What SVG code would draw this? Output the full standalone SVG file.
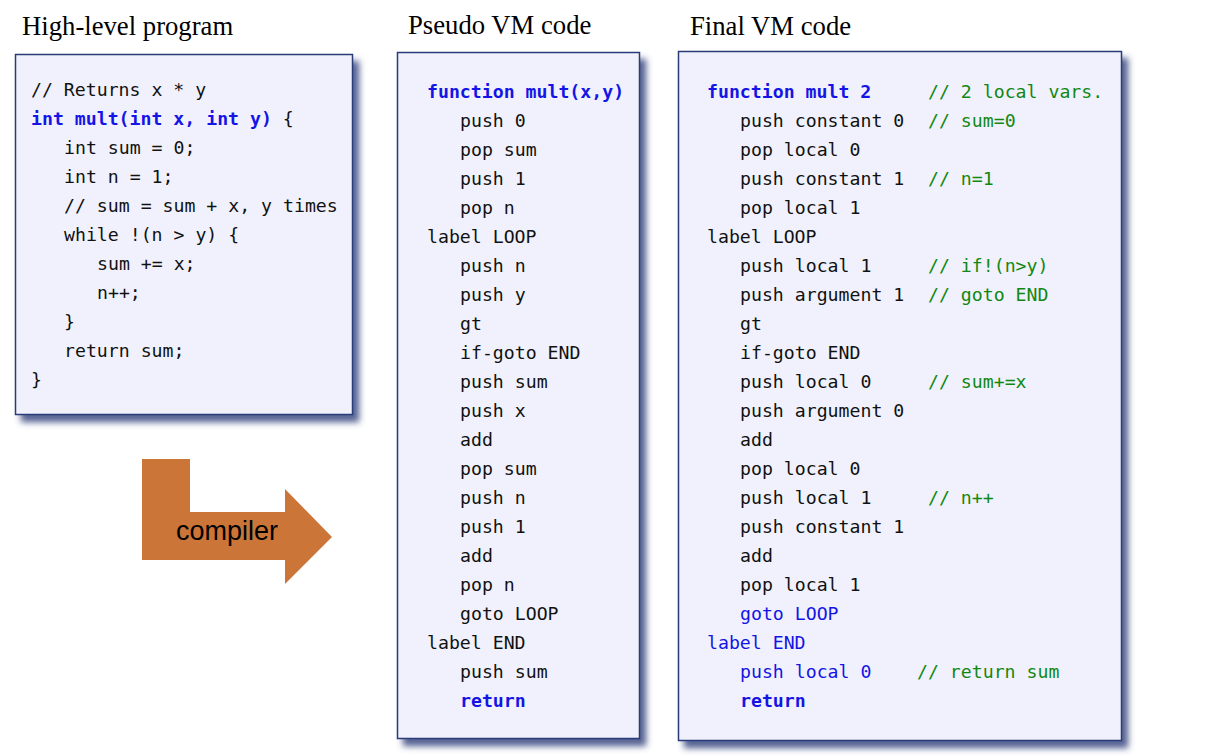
<svg xmlns="http://www.w3.org/2000/svg" width="1215" height="756" viewBox="0 0 1215 756">
<style>
.title{font-family:"Liberation Serif","Times New Roman",serif;font-size:26.7px;fill:#000}
.box{fill:#F0F1FC;stroke:#2B3A7A;stroke-width:1.5}
.code{font-family:"DejaVu Sans Mono","Liberation Mono",monospace;font-size:18.2px;fill:#111}
.kw{fill:#1414E6;font-weight:bold}
.bl{fill:#1414E6}
.cm{fill:#118811}
.lbl{font-family:"Liberation Sans",Arial,sans-serif;font-size:27px;fill:#000}
</style>
<defs>
<filter id="sh" x="-10%" y="-10%" width="130%" height="130%">
<feDropShadow dx="6" dy="7" stdDeviation="3" flood-color="#3A4A80" flood-opacity="0.85"/>
</filter>
</defs>
<rect width="1215" height="756" fill="#fff"/>
<text class="title" x="22" y="35">High-level program</text>
<text class="title" x="408" y="34">Pseudo VM code</text>
<text class="title" x="690" y="35">Final VM code</text>

<g id="high-level">
<rect class="box" x="15.5" y="54.5" width="337" height="360" filter="url(#sh)"/>
<g class="code">
<text x="31" y="96">// Returns x * y</text>
<text x="31" y="125"><tspan class="kw">int mult(int x, int y)</tspan> {</text>
<text x="64" y="154">int sum = 0;</text>
<text x="64" y="183">int n = 1;</text>
<text x="64" y="212">// sum = sum + x, y times</text>
<text x="64" y="241">while !(n &gt; y) {</text>
<text x="97" y="270">sum += x;</text>
<text x="97" y="299">n++;</text>
<text x="64" y="328">}</text>
<text x="64" y="357">return sum;</text>
<text x="31" y="386">}</text>
</g>
</g>

<g id="pseudo-vm">
<rect class="box" x="397.5" y="52.5" width="242" height="686" filter="url(#sh)"/>
<g class="code">
<text x="427" y="98" class="kw">function mult(x,y)</text>
<text x="460" y="127">push 0</text>
<text x="460" y="156">pop sum</text>
<text x="460" y="185">push 1</text>
<text x="460" y="214">pop n</text>
<text x="427" y="243">label LOOP</text>
<text x="460" y="272">push n</text>
<text x="460" y="301">push y</text>
<text x="460" y="330">gt</text>
<text x="460" y="359">if-goto END</text>
<text x="460" y="388">push sum</text>
<text x="460" y="417">push x</text>
<text x="460" y="446">add</text>
<text x="460" y="475">pop sum</text>
<text x="460" y="504">push n</text>
<text x="460" y="533">push 1</text>
<text x="460" y="562">add</text>
<text x="460" y="591">pop n</text>
<text x="460" y="620">goto LOOP</text>
<text x="427" y="649">label END</text>
<text x="460" y="678">push sum</text>
<text x="460" y="707" class="kw">return</text>
</g>
</g>

<g id="final-vm">
<rect class="box" x="678.5" y="51.5" width="443" height="689" filter="url(#sh)"/>
<g class="code">
<text x="707" y="98" class="kw">function mult 2</text>
<text x="928" y="98" class="cm">// 2 local vars.</text>
<text x="740" y="127">push constant 0</text>
<text x="928" y="127" class="cm">// sum=0</text>
<text x="740" y="156">pop local 0</text>
<text x="740" y="185">push constant 1</text>
<text x="928" y="185" class="cm">// n=1</text>
<text x="740" y="214">pop local 1</text>
<text x="707" y="243">label LOOP</text>
<text x="740" y="272">push local 1</text>
<text x="928" y="272" class="cm">// if!(n&gt;y)</text>
<text x="740" y="301">push argument 1</text>
<text x="928" y="301" class="cm">// goto END</text>
<text x="740" y="330">gt</text>
<text x="740" y="359">if-goto END</text>
<text x="740" y="388">push local 0</text>
<text x="928" y="388" class="cm">// sum+=x</text>
<text x="740" y="417">push argument 0</text>
<text x="740" y="446">add</text>
<text x="740" y="475">pop local 0</text>
<text x="740" y="504">push local 1</text>
<text x="928" y="504" class="cm">// n++</text>
<text x="740" y="533">push constant 1</text>
<text x="740" y="562">add</text>
<text x="740" y="591">pop local 1</text>
<text x="740" y="620" class="bl">goto LOOP</text>
<text x="707" y="649" class="bl">label END</text>
<text x="740" y="678" class="bl">push local 0</text>
<text x="917" y="678" class="cm">// return sum</text>
<text x="740" y="707" class="kw">return</text>
</g>
</g>

<g id="compiler-arrow">
<polygon points="142,459 190,459 190,512 285,512 285,489 332,537 285,584 285,560 142,560" fill="#CC7538"/>
<text class="lbl" x="227" y="540" text-anchor="middle">compiler</text>
</g>
</svg>
